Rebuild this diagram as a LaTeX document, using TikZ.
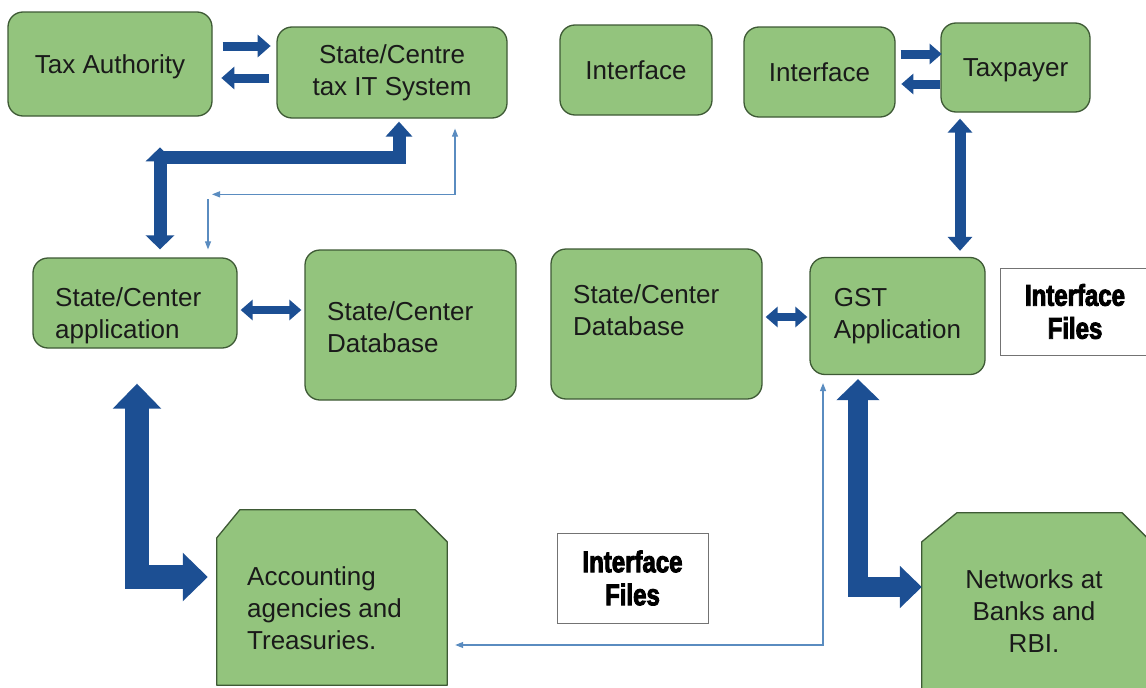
\documentclass[tikz,border=0pt]{standalone}
\usepackage{fontspec}
\setmainfont{Liberation Sans}
\newfontfamily\impactfont[FakeStretch=0.8,FakeBold=3]{Liberation Sans}
\usetikzlibrary{arrows.meta,calc}
\definecolor{boxgreen}{HTML}{93C47D}
\definecolor{boxline}{HTML}{3E5A35}
\definecolor{blkblue}{HTML}{1C4F93}
\definecolor{thinblue}{HTML}{5A8CC0}
\definecolor{txtc}{HTML}{1A1A1A}
\begin{document}
\begin{tikzpicture}[x=1pt,y=-1pt,
  box/.style={draw=boxline, fill=boxgreen, line width=1.3pt, rounded corners=15pt, inner sep=0pt},
  cshape/.style={draw=boxline, fill=boxgreen, line width=1.3pt, line join=round},
  anchorbox/.style={draw=none, fill=none, inner sep=0pt},
  wbox/.style={draw=black!55, fill=white, line width=1pt, inner sep=0pt},
  txt/.style={font=\fontsize{26}{32}\selectfont, text=txtc, inner sep=0pt},
  one/.style={text depth=0pt},
  ftxt/.style={font=\impactfont\bfseries\fontsize{30}{33}\selectfont, text=black, align=center, inner sep=0pt},
  blk/.style={draw=blkblue, line join=miter},
  thinln/.style={draw=thinblue, line width=1.1pt, >={Triangle[width=6pt,length=8pt]}}
]
\clip (0,0) rectangle (1146,688);
\fill[white] (0,0) rectangle (1146,688);

% boxes
\node[box, minimum width=204pt, minimum height=104pt, txt, one] (ta) at (110,64) {Tax Authority};
\node[box, minimum width=230pt, minimum height=91pt, txt, align=center] (its) at (392,72.5) {State/Centre\\tax IT System};
\node[box, minimum width=152pt, minimum height=90pt, txt, one] (if1) at (636,70) {Interface};
\node[box, minimum width=151pt, minimum height=90pt, txt, one] (if2) at (819.5,72) {Interface};
\node[box, minimum width=149pt, minimum height=89pt, txt, one] (tp) at (1015.5,67.5) {Taxpayer};
\node[box, minimum width=204pt, minimum height=90pt] (app) at (135,303) {};
\node[box, minimum width=211pt, minimum height=150pt] (db1) at (410.5,325) {};
\node[box, minimum width=211pt, minimum height=150pt] (db2) at (656.5,324) {};
\node[box, minimum width=175pt, minimum height=117pt, txt, align=left] (gst) at (897.5,316) {GST\\Application};
\node[anchorbox, minimum width=230pt, minimum height=175pt] (acc) at (332,597.5) {};
\node[anchorbox, minimum width=248pt, minimum height=187pt] (net) at (1046,606.5) {};
\draw[cshape] (acc.south west) -- ([yshift=-28pt]acc.north west) -- ([xshift=23pt]acc.north west)
  -- ([xshift=-32pt]acc.north east) -- ([yshift=-32pt]acc.north east) -- (acc.south east) -- cycle;
\draw[cshape] (net.south west) -- ([yshift=-29pt]net.north west) -- ([xshift=35pt]net.north west)
  -- ([xshift=-48pt]net.north east) -- ([yshift=-48pt]net.north east) -- (net.south east) -- cycle;
\node[wbox, minimum width=150pt, minimum height=87pt, ftxt] (ifr) at (1075,311.5) {Interface\\Files};
\node[wbox, minimum width=151pt, minimum height=90pt, ftxt] (ifb) at (632.5,578) {Interface\\Files};

% texts placed inside boxes
\node[txt, align=left, anchor=west] (appt) at (55,316) {State/Center\\application};
\node[txt, align=left, anchor=west] (db1t) at (327,327) {State/Center\\Database};
\node[txt, align=left, anchor=west] (db2t) at (573,310) {State/Center\\Database};
\node[txt, align=left, anchor=west] (acct) at (247,608) {Accounting\\agencies and\\Treasuries.};
\node[txt, align=center] (nett) at (1034,611) {Networks at\\Banks and\\RBI.};

% Tax Authority <-> IT system
\draw[blk, line width=9pt, -{Triangle[width=22pt,length=13pt]}]
  ([shift={(10pt,18pt)}]ta.east) -- ++(48,0);
\draw[blk, line width=9pt, -{Triangle[width=22pt,length=13pt]}]
  ([shift={(-7pt,-5.5pt)}]its.west) -- ++(-48,0);

% Interface <-> Taxpayer
\draw[blk, line width=9pt, -{Triangle[width=20pt,length=12pt]}]
  ([shift={(5pt,18pt)}]if2.east) -- ++(41,0);
\draw[blk, line width=9pt, -{Triangle[width=20pt,length=12pt]}]
  ([shift={(0pt,-16.5pt)}]tp.west) -- ++(-39,0);

% app <-> IT system
\draw[blk, line width=13pt, {Triangle[width=28pt,length=14pt]}-{Triangle[width=28pt,length=14pt]}]
  ([shift={(25pt,8pt)}]app.north) -- ++(0,-102);
\draw[blk, line width=13pt, -{Triangle[width=26pt,length=15pt]}]
  ([shift={(25pt,100pt)}]app.north) -| ([shift={(7pt,-3pt)}]its.south);

% thin connector app <-> IT system
\draw[thinln, <->] ([shift={(77pt,63pt)}]app.north) -| ([shift={(63pt,-10pt)}]its.south);
\draw[thinln, ->] ([shift={(73pt,58pt)}]app.north) -- ([shift={(73pt,8pt)}]app.north);

% app <-> db1
\draw[blk, line width=8pt, {Triangle[width=20pt,length=12pt]}-{Triangle[width=20pt,length=12pt]}]
  ([shift={(3pt,-7pt)}]app.east) -- ([shift={(-3pt,15pt)}]db1.west);

% db2 <-> gst
\draw[blk, line width=8pt, {Triangle[width=20pt,length=12pt]}-{Triangle[width=20pt,length=12pt]}]
  ([shift={(3pt,7pt)}]db2.east) -- ([shift={(-2pt,-1pt)}]gst.west);

% taxpayer <-> gst
\draw[blk, line width=11pt, {Triangle[width=24pt,length=14pt]}-{Triangle[width=24pt,length=14pt]}]
  ([shift={(-55.5pt,-6pt)}]tp.south) -- ([shift={(62.5pt,6pt)}]gst.north);

% app <-> accounting
\draw[blk, line width=24pt, {Triangle[width=47pt,length=25pt]}-{Triangle[width=47pt,length=25pt]}]
  ([shift={(2pt,-35pt)}]app.south) |- ([shift={(-9pt,20.5pt)}]acc.west);

% gst <-> networks
\draw[blk, line width=20pt, {Triangle[width=42pt,length=21pt]}-{Triangle[width=41pt,length=22pt]}]
  ([shift={(-39.5pt,-4pt)}]gst.south) |- ([shift={(0pt,19.5pt)}]net.west);

% thin connector gst <-> accounting
\draw[thinln, <->] ([shift={(8pt,-47.5pt)}]acc.east) -| ([shift={(-74.5pt,-8pt)}]gst.south);
\end{tikzpicture}
\end{document}
